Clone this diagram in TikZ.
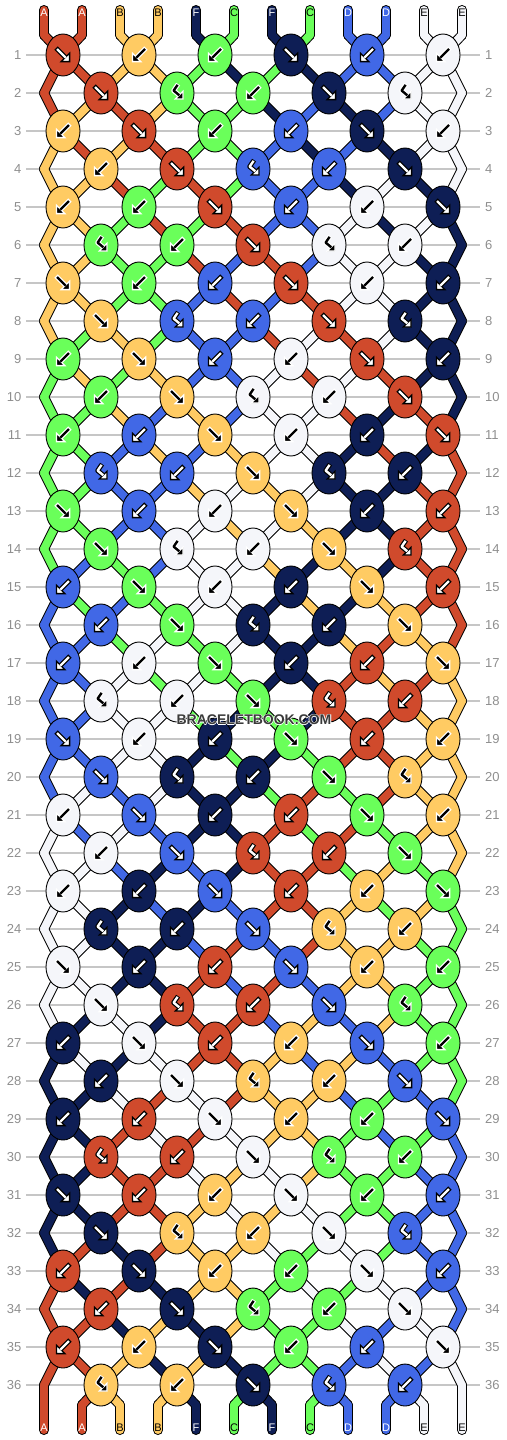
\documentclass[tikz,border=0pt]{standalone}
\usepackage{fontspec}
\setsansfont{Liberation Sans}
\usetikzlibrary{shapes.geometric}

\definecolor{threadA}{HTML}{D04A2C}
\definecolor{threadB}{HTML}{FFCB63}
\definecolor{threadF}{HTML}{0E1E55}
\definecolor{threadC}{HTML}{6AFF5A}
\definecolor{threadD}{HTML}{4168E6}
\definecolor{threadE}{HTML}{F5F6FA}
\definecolor{rowline}{HTML}{C6C6C6}
\definecolor{rownum}{HTML}{8E8E8E}
\definecolor{markgray}{HTML}{3A3A3A}

% arrow colour and arrow rim on each thread
\def\inkA{white}\def\edgeA{black}
\def\inkB{black}\def\edgeB{white}
\def\inkF{white}\def\edgeF{black}
\def\inkC{black}\def\edgeC{white}
\def\inkD{white}\def\edgeD{black}
\def\inkE{black}\def\edgeE{white}

% knots of the six row repeat (f forward, b backward, h backward-forward)
\expandafter\def\csname knots0\endcsname{f,b,b,f,b,b}
\expandafter\def\csname knots1\endcsname{f,h,b,f,h}
\expandafter\def\csname knots2\endcsname{b,f,b,b,f,b}
\expandafter\def\csname knots3\endcsname{b,f,h,b,f}
\expandafter\def\csname knots4\endcsname{b,b,f,b,b,f}
\expandafter\def\csname knots5\endcsname{h,b,f,h,b}

\pgfdeclarelayer{grid}
\pgfdeclarelayer{rim}
\pgfdeclarelayer{thread}
\pgfsetlayers{grid,rim,thread,main}

\tikzset{
  knot/.style={ellipse, draw=black, line width=0.9pt, minimum width=34pt, minimum height=42pt, inner sep=0pt},
  rimline/.style={line width=10pt, draw=black, line cap=round, line join=round},
  threadline/.style={line width=8pt, line cap=round, line join=round},
  tablabel/.style={font=\sffamily\fontsize{11}{11}\selectfont, inner sep=0pt},
  rowlabel/.style={font=\sffamily\fontsize{13}{13}\selectfont, text=rownum, inner sep=0pt},
  marklabel/.style={font=\sffamily\bfseries\fontsize{14}{14}\selectfont, inner sep=0pt}
}

% pass: knot, rim or thread
\def\pass{knot}
\def\passknot{knot}
\def\passthread{thread}

% thread #1 runs on to the node or coordinate #2
\newcommand\threadto[2]{%
  \edef\thfrom{\csname pt#1\endcsname}%
  \edef\thcol{thread\csname col#1\endcsname}%
  \ifx\pass\passknot\else
    \def\thstyle{rimline}%
    \ifx\pass\passthread \def\thstyle{threadline, draw=\thcol}\fi
    \expandafter\draw\expandafter[\thstyle] (\thfrom.center) -- (#2.center);
  \fi
  \expandafter\xdef\csname pt#1\endcsname{#2}%
}

% arrow in knot #2, type #1, thread letter #3
\newcommand\knoticon[3]{%
  \edef\arrfill{\csname ink#3\endcsname}%
  \edef\arredge{\csname edge#3\endcsname}%
  \if h#1
    \begin{scope}[shift={(#2.center)}, scale=1.2]
      \draw[line width=4.8pt, draw=\arredge, line join=round] (0.9,-7.4) -- (-2.8,-2) -- (1.9,1.9);
      \filldraw[line width=1.3pt, draw=\arredge, fill=\arrfill] (5,5) -- (5,-1.4) -- (-1.4,5) -- cycle;
      \draw[line width=2.4pt, draw=\arrfill, line join=round] (0.5,-6.8) -- (-2.8,-2) -- (1.9,1.9);
    \end{scope}
  \else
    \if f#1\def\arrx{1}\else\def\arrx{-1}\fi
    \begin{scope}[shift={(#2.center)}, xscale=\arrx, scale=1.2]
      \draw[line width=4.8pt, draw=\arredge] (-5.8,-5.8) -- (2,2);
      \filldraw[line width=1.3pt, draw=\arredge, fill=\arrfill] (5.5,5.5) -- (5.5,-1.5) -- (-1.5,5.5) -- cycle;
      \draw[line width=2.4pt, draw=\arrfill] (-5,-5) -- (2.2,2.2);
    \end{scope}
  \fi
}

% the whole bracelet, in the pass \pass
\newcommand\weave{%
  % threads at the top
  \foreach \c [count=\k] in {A,A,B,B,F,C,F,C,D,D,E,E}{
    \pgfmathsetmacro\x{6+38*\k}
    \coordinate (top-\k) at (\x,10);
    \coordinate (in-\k) at (\x,35);
    \expandafter\xdef\csname col\k\endcsname{\c}
    \expandafter\xdef\csname pt\k\endcsname{top-\k}
    \threadto{\k}{in-\k}
  }
  % knots row by row
  \foreach \r in {1,...,36}{
    \pgfmathsetmacro\y{55+38*(\r-1)}
    \pgfmathtruncatemacro\odd{mod(\r,2)}
    \pgfmathtruncatemacro\ph{mod(\r-1,6)}
    \ifnum\odd=0
      \coordinate (edgeL-\r) at (44,\y);
      \coordinate (edgeR-\r) at (462,\y);
      \threadto{1}{edgeL-\r}
      \threadto{12}{edgeR-\r}
    \fi
    \edef\knotlist{\csname knots\ph\endcsname}
    \foreach \kt [count=\i] in \knotlist {
      \pgfmathtruncatemacro\lft{2*\i-\odd}
      \pgfmathtruncatemacro\rgt{\lft+1}
      \pgfmathsetmacro\x{25+38*\lft}
      \edef\colL{\csname col\lft\endcsname}
      \edef\colR{\csname col\rgt\endcsname}
      \if f\kt \let\colK\colL \else \let\colK\colR \fi
      \ifx\pass\passknot
        \edef\knotfill{thread\colK}
        \node[knot, fill=\knotfill] (k-\r-\i) at (\x,\y) {};
        \knoticon{\kt}{k-\r-\i}{\colK}
      \fi
      \threadto{\lft}{k-\r-\i}
      \threadto{\rgt}{k-\r-\i}
      \if h\kt\else
        \expandafter\xdef\csname col\lft\endcsname{\colR}
        \expandafter\xdef\csname col\rgt\endcsname{\colL}
      \fi
    }
  }
  % threads at the bottom
  \foreach \k in {1,...,12}{
    \pgfmathsetmacro\x{6+38*\k}
    \coordinate (out-\k) at (\x,1405);
    \coordinate (end-\k) at (\x,1430);
    \threadto{\k}{out-\k}
    \threadto{\k}{end-\k}
  }
}

\begin{document}
\begin{tikzpicture}[x=1pt,y=-1pt]
\useasboundingbox (0,0) rectangle (506,1440);

% row lines and row numbers
\begin{pgfonlayer}{grid}
\foreach \r in {1,...,36}{
  \pgfmathsetmacro\y{55+38*(\r-1)}
  \draw[rowline, line width=1.2pt] (26,\y) -- (480,\y);
}
\end{pgfonlayer}
\foreach \r in {1,...,36}{
  \pgfmathsetmacro\y{55+38*(\r-1)}
  \node[rowlabel, anchor=east] (numL-\r) at (21.5,\y) {\r};
  \node[rowlabel, anchor=west] (numR-\r) at (485,\y) {\r};
}

% knots first, then the threads under them
\def\pass{knot}\weave
\begin{pgfonlayer}{rim}
\def\pass{rim}\weave
\end{pgfonlayer}
\begin{pgfonlayer}{thread}
\def\pass{thread}\weave
\end{pgfonlayer}

% letters on the thread ends
\foreach \c [count=\k] in {A,A,B,B,F,C,F,C,D,D,E,E}{
  \pgfmathsetmacro\x{6+38*\k}
  \node[tablabel, text=\csname ink\c\endcsname] (tag-\k) at (\x,13) {\c};
  \node[tablabel, text=\csname ink\c\endcsname] (foot-\k) at (\x,1428) {\c};
}

% watermark
\foreach \dx/\dy in {-0.8/0,0.8/0,0/-0.8,0/0.8}
  \node[marklabel, text=white] at (254+\dx,720+\dy) {BRACELETBOOK.COM};
\node[marklabel, text=markgray] (mark) at (254,720) {BRACELETBOOK.COM};
\end{tikzpicture}
\end{document}
